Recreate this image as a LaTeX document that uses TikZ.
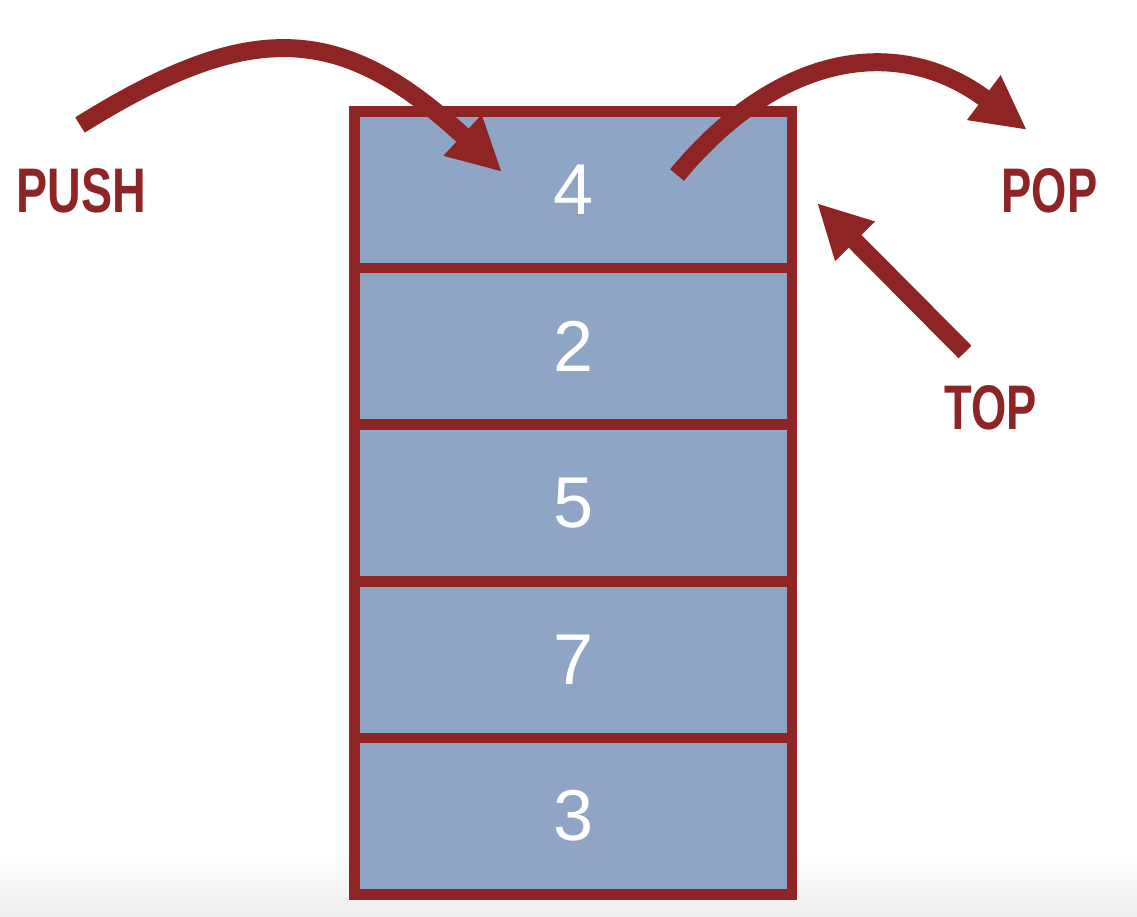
\documentclass[tikz,border=0pt]{standalone}
\usepackage{fontspec}
\setmainfont{Liberation Sans}
\usetikzlibrary{arrows.meta}
\definecolor{stackred}{HTML}{8E2424}
\definecolor{cellblue}{HTML}{8EA5C5}
\tikzset{
  cell/.style={draw=stackred, fill=cellblue, line width=10.5pt, rectangle,
    minimum width=437.5pt, minimum height=156.6pt, inner sep=0pt, outer sep=0pt,
    text=white, font=\fontsize{72}{72}\selectfont},
  lab/.style={text=stackred, inner sep=0pt, font=\bfseries\fontsize{63}{63}\selectfont},
  bigarrow/.style={draw=stackred, line width=18pt, -{Triangle[length=54pt,width=52pt]}, fill=none}
}
\begin{document}
\begin{tikzpicture}[x=1pt,y=-1pt]
\useasboundingbox (0,0) rectangle (1137,917);
\shade[top color=white, bottom color=black!7] (0,850) rectangle (1137,917);
% stack cells
\node[cell] (c4) at (573.25,189.8) {4};
\node[cell] (c2) at (573.25,346.4) {2};
\node[cell] (c5) at (573.25,503.0) {5};
\node[cell] (c7) at (573.25,659.6) {7};
\node[cell] (c3) at (573.25,816.2) {3};
% labels
\node[lab] (push) at (81.5,190.5) {\scalebox{0.74}[1]{PUSH}};
\node[lab] (pop) at (1049.5,190.5) {\scalebox{0.72}[1]{POP}};
\node[lab] (top) at (990.5,407.5) {\scalebox{0.72}[1]{TOP}};
% arrow endpoints
\coordinate (pushS) at (80,125);
\coordinate (pushE) at (502,172);
\coordinate (popS) at (677,175);
\coordinate (popE) at (1027,130);
\coordinate (topS) at (965,352);
\coordinate (topE) at (817,203);
% arrows
\draw[bigarrow] (pushS) .. controls +(170,-106) and +(-161,-150) .. (pushE);
\draw[bigarrow] (popS) .. controls +(102,-123) and +(-128,-96) .. (popE);
\draw[bigarrow] (topS) -- (topE);
\end{tikzpicture}
\end{document}
